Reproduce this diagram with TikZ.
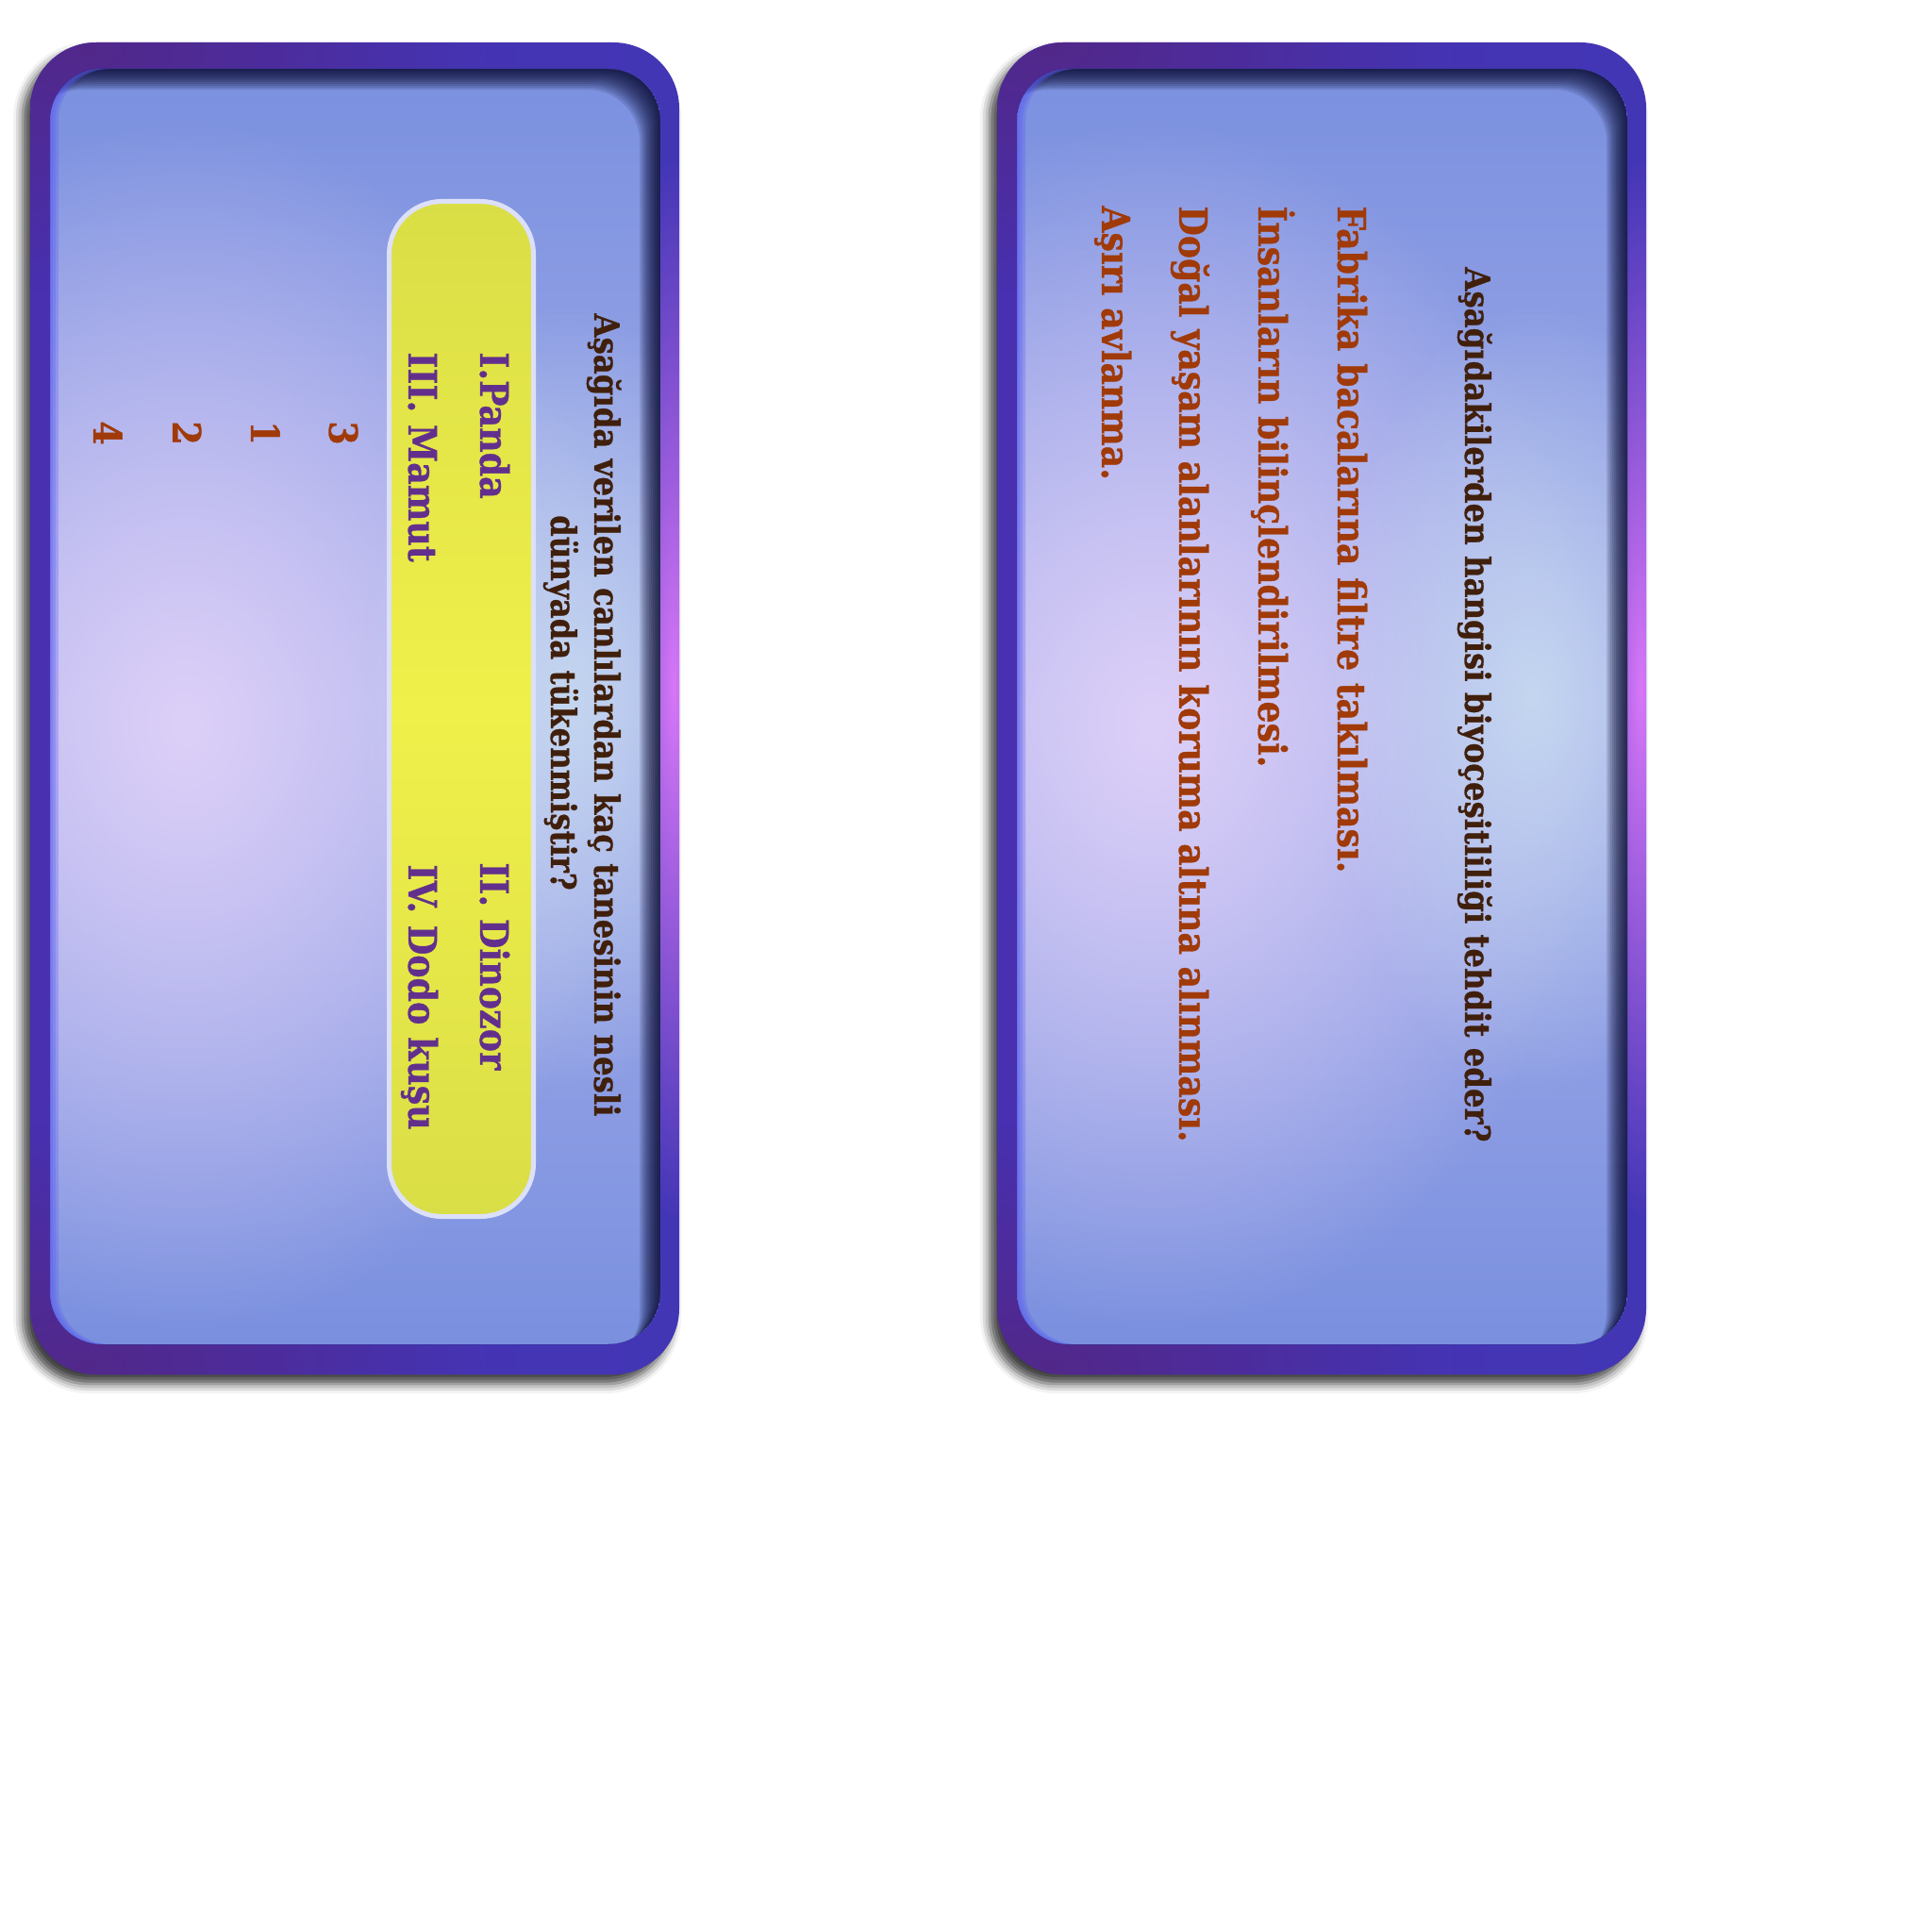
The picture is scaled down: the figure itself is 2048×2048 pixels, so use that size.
\documentclass[tikz,border=0pt]{standalone}
\usepackage{fontspec}
\setmainfont{DejaVu Serif}[FakeStretch=0.88, BoldFeatures={FakeBold=0.8}]
\usetikzlibrary{shadows.blur,fadings}

\definecolor{framepurple}{HTML}{52288A}
\definecolor{frameviolet}{HTML}{4830B0}
\definecolor{frameblue}{HTML}{4336B5}
\definecolor{framepink}{HTML}{D878F8}
\definecolor{panelblue}{HTML}{7A90DF}
\definecolor{panelmid}{HTML}{A6AEEA}
\definecolor{panelrim}{HTML}{5C5EF0}
\definecolor{glowlav}{HTML}{DDD0F8}
\definecolor{glowsky}{HTML}{C4D6F0}
\definecolor{boxyellow}{HTML}{F0F04A}
\definecolor{boxedge}{HTML}{DADE46}
\definecolor{boxrim}{HTML}{DCE0F8}
\definecolor{qbrown}{HTML}{40200C}
\definecolor{itempurple}{HTML}{62308C}
\definecolor{optrust}{HTML}{A03A08}

\tikzfading[name=softspot, inner color=transparent!0, outer color=transparent!100]

\tikzset{
  cardframe/.style={rounded corners=35pt, left color=frameviolet, right color=frameblue,
    blur shadow={shadow xshift=-4pt, shadow yshift=-5pt, shadow blur radius=5pt, shadow opacity=75}},
  cardpanel/.style={rounded corners=27.5pt, top color=panelblue, bottom color=panelblue, middle color=panelmid},
  answerbox/.style={draw=boxrim, line width=2.5pt, rounded corners=28pt, inner sep=0pt,
    minimum width=76.5pt, minimum height=538pt,
    top color=boxedge, bottom color=boxedge, middle color=boxyellow},
  vtext/.style={rotate=-90, inner sep=0pt},
  question/.style={vtext, anchor=base, text=qbrown, font=\fontsize{18.4}{22}\selectfont\bfseries},
  species/.style={vtext, anchor=base west, text=itempurple, font=\fontsize{20.7}{25}\selectfont\bfseries},
  choice/.style={vtext, anchor=base west, text=optrust, font=\fontsize{20.6}{25}\selectfont\bfseries}
}

\begin{document}
\begin{tikzpicture}[x=0.5pt, y=-0.5pt]
  \useasboundingbox (0,0) rectangle (2048,2048);
  % card backgrounds
  \foreach \cx in {0,1025} {
    \path[cardframe] (\cx+32,45) rectangle (\cx+720,1457);
    \begin{scope}
      \clip[rounded corners=35pt] (\cx+32,45) rectangle (\cx+720,1457);
      \fill[framepurple, path fading=softspot] (\cx+90,50) ellipse (420 and 260);
      \fill[framepurple, path fading=softspot] (\cx+90,1450) ellipse (420 and 260);
      \fill[framepink, path fading=softspot] (\cx+714,730) ellipse (70 and 560);
    \end{scope}
    \path[cardpanel] (\cx+53,73) rectangle (\cx+700,1425);
    \begin{scope}
      \clip[rounded corners=27.5pt] (\cx+53,73) rectangle (\cx+700,1425);
      \fill[glowlav, path fading=softspot] (\cx+197,770) ellipse (480 and 640);
      \fill[glowsky, path fading=softspot] (\cx+600,740) ellipse (220 and 420);
      \foreach \s in {2,4,...,22}
        \fill[black!85!blue, opacity=.12, even odd rule, rounded corners=27.5pt]
          (\cx+53,73) rectangle (\cx+700,1425)
          (\cx+53-\s,73+\s) rectangle (\cx+700-\s,1425+\s);
      \foreach \s in {3,6,9}
        \fill[panelrim, opacity=.3, even odd rule, rounded corners=27.5pt]
          (\cx+53,73) rectangle (\cx+700,1425)
          (\cx+53+\s,73) rectangle (\cx+700+\s,1425);
    \end{scope}
  }

  % first card
  \node[question] (askA1) at (630,758) {Aşağıda verilen canlılardan kaç tanesinin nesli};
  \node[question] (askA2) at (584,745) {dünyada tükenmiştir?};
  \node[answerbox] (petbox) at (489,751.5) {};
  \node[species] (panda) at (509,373) {I.Panda};
  \node[species] (mamut) at (433,373) {III. Mamut};
  \node[species] (dino) at (509,914) {II. Dinozor};
  \node[species] (dodo) at (433,916) {IV. Dodo kuşu};
  \node[choice] (optA) at (349,446) {3};
  \node[choice] (optB) at (266,446) {1};
  \node[choice] (optC) at (183,446) {2};
  \node[choice] (optD) at (99,446) {4};

  % second card
  \node[question] (askB) at (1553,747) {Aşağıdakilerden hangisi biyoçeşitliliği tehdit eder?};
  \node[choice] (optE) at (1418,218) {Fabrika bacalarına filtre takılması.};
  \node[choice] (optF) at (1334,218) {İnsanların bilinçlendirilmesi.};
  \node[choice] (optG) at (1250,218) {Doğal yaşam alanlarının koruma altına alınması.};
  \node[choice] (optH) at (1168,218) {Aşırı avlanma.};
\end{tikzpicture}
\end{document}
